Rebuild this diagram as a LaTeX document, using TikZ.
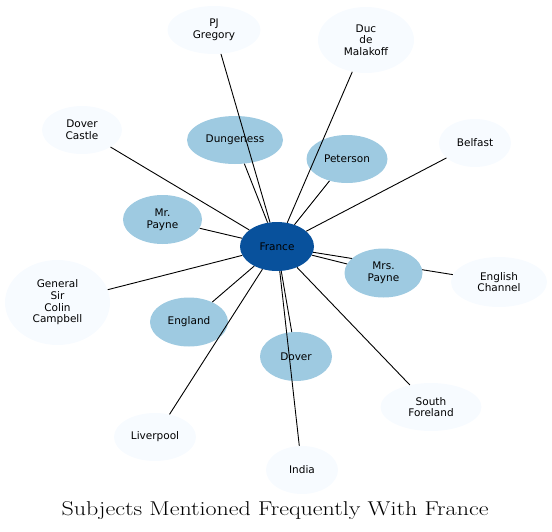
\documentclass[tikz,border=0pt]{standalone}
\usepackage{fontspec}
\newfontfamily\nodefont{DejaVu Sans}
\usetikzlibrary{shapes.geometric}
\pgfdeclarelayer{back}
\pgfdeclarelayer{front}
\pgfsetlayers{back,main,front}
\definecolor{hub}{HTML}{08519C}
\definecolor{mid}{HTML}{9ECAE1}
\definecolor{pale}{HTML}{F7FBFF}
\tikzset{
  subj/.style={ellipse, inner sep=0pt, align=center, text=black,
    font=\nodefont\fontsize{10.5}{11.7}\selectfont},
  palenode/.style={subj, fill=pale},
  midnode/.style={subj, fill=mid},
  hubnode/.style={subj, fill=hub},
  link/.style={draw=black, line width=0.9pt},
}
\begin{document}
\begin{tikzpicture}[x=1pt,y=-1pt]
\useasboundingbox (0,0) rectangle (552,531);
\node[hubnode, minimum width=74pt, minimum height=49pt] (france) at (277,246.5) {France};
\node[palenode, minimum width=93pt, minimum height=48pt] (pj) at (214,30) {PJ\\Gregory};
\node[palenode, minimum width=96pt, minimum height=66pt] (duc) at (366,40) {Duc\\de\\Malakoff};
\node[palenode, minimum width=80pt, minimum height=48pt] (dcastle) at (82,130) {Dover\\Castle};
\node[midnode, minimum width=96pt, minimum height=48pt] (dung) at (235,140) {Dungeness};
\node[midnode, minimum width=81pt, minimum height=48pt] (peter) at (347,159) {Peterson};
\node[palenode, minimum width=72pt, minimum height=48pt] (belfast) at (475,143) {Belfast};
\node[midnode, minimum width=79pt, minimum height=49pt] (mrp) at (162.5,219.5) {Mr.\\Payne};
\node[midnode, minimum width=78pt, minimum height=49pt] (mrsp) at (383.5,273) {Mrs.\\Payne};
\node[palenode, minimum width=96pt, minimum height=50pt] (chan) at (499,282) {English\\Channel};
\node[palenode, minimum width=105pt, minimum height=85pt] (gen) at (57.5,302.5) {General\\Sir\\Colin\\Campbell};
\node[midnode, minimum width=78pt, minimum height=49pt] (eng) at (189,322) {England};
\node[midnode, minimum width=72pt, minimum height=49pt] (dover) at (296,356.5) {Dover};
\node[palenode, minimum width=101pt, minimum height=48pt] (south) at (431,407) {South\\Foreland};
\node[palenode, minimum width=82pt, minimum height=48pt] (liver) at (155,437) {Liverpool};
\node[palenode, minimum width=72pt, minimum height=48pt] (india) at (302,470) {India};
\begin{pgfonlayer}{back}
\draw[link] (france) -- (chan);
\end{pgfonlayer}
\begin{pgfonlayer}{front}
\draw[link] (france) -- (pj);
\draw[link] (france) -- (duc);
\draw[link] (france) -- (dcastle);
\draw[link] (france) -- (dung);
\draw[link] (france) -- (peter);
\draw[link] (france) -- (belfast);
\draw[link] (france) -- (mrp);
\draw[link] (france) -- (mrsp);
\draw[link] (france) -- (gen);
\draw[link] (france) -- (eng);
\draw[link] (france) -- (dover);
\draw[link] (france) -- (south);
\draw[link] (france) -- (liver);
\draw[link] (france) -- (india);
\end{pgfonlayer}
\node[anchor=base, inner sep=0pt] (title) at (275,515)
  {\scalebox{1.2}[1]{\fontsize{20}{24}\selectfont Subjects Mentioned Frequently With France}};
\end{tikzpicture}
\end{document}
